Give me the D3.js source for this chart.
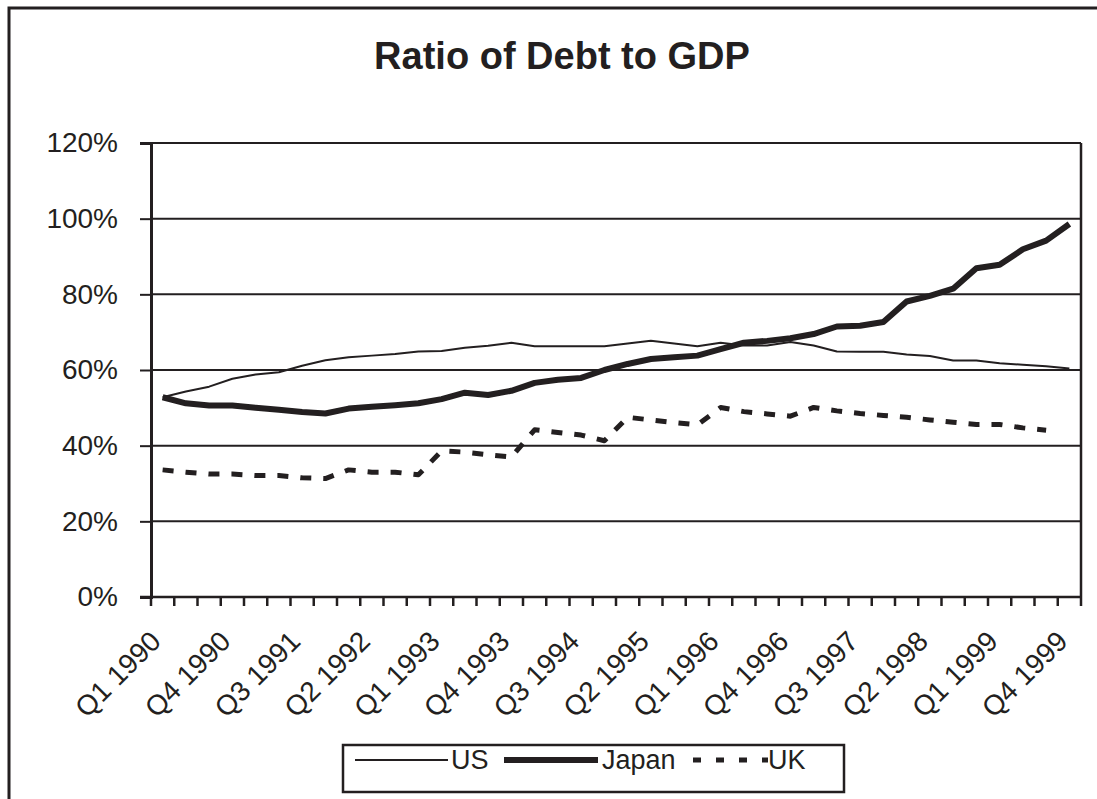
<!DOCTYPE html>
<html>
<head>
<meta charset="utf-8">
<script src="https://cdn.jsdelivr.net/npm/d3@7"></script>
<style>
  body { margin: 0; background: #fff; overflow: hidden; }
  text { font-family: "Liberation Sans", Arial, sans-serif; fill: #231f20; }
</style>
</head>
<body>
<div id="chart"></div>
<script>
// quarters, Q1 1990 .. Q4 1999
var quarters = [
  "Q1 1990", "Q2 1990", "Q3 1990", "Q4 1990",
  "Q1 1991", "Q2 1991", "Q3 1991", "Q4 1991",
  "Q1 1992", "Q2 1992", "Q3 1992", "Q4 1992",
  "Q1 1993", "Q2 1993", "Q3 1993", "Q4 1993",
  "Q1 1994", "Q2 1994", "Q3 1994", "Q4 1994",
  "Q1 1995", "Q2 1995", "Q3 1995", "Q4 1995",
  "Q1 1996", "Q2 1996", "Q3 1996", "Q4 1996",
  "Q1 1997", "Q2 1997", "Q3 1997", "Q4 1997",
  "Q1 1998", "Q2 1998", "Q3 1998", "Q4 1998",
  "Q1 1999", "Q2 1999", "Q3 1999", "Q4 1999"
];

// debt to GDP, percent
var usDebt = [52.8, 54.3, 55.6, 57.7, 58.8, 59.4, 61.1, 62.6, 63.4, 63.8,
  64.2, 64.9, 65.0, 65.9, 66.4, 67.2, 66.3, 66.3, 66.3, 66.3,
  67.0, 67.7, 67.0, 66.3, 67.2, 66.5, 66.5, 67.4, 66.5, 64.9,
  64.8, 64.8, 64.1, 63.7, 62.5, 62.5, 61.8, 61.4, 61.0, 60.4];

var japanDebt = [52.8, 51.2, 50.6, 50.6, 50.0, 49.5, 48.9, 48.5, 49.8, 50.3,
  50.7, 51.2, 52.3, 54.0, 53.4, 54.5, 56.6, 57.4, 57.9, 60.0,
  61.6, 62.9, 63.4, 63.8, 65.5, 67.2, 67.7, 68.4, 69.5, 71.5,
  71.7, 72.7, 78.1, 79.6, 81.5, 86.9, 87.8, 91.9, 94.2, 98.6];

var ukDebt = [33.6, 33.0, 32.5, 32.5, 32.1, 32.1, 31.5, 31.3, 33.6, 33.0,
  33.0, 32.3, 38.6, 38.3, 37.6, 37.0, 44.2, 43.5, 42.8, 41.3,
  47.5, 46.8, 46.1, 45.5, 50.1, 49.0, 48.4, 47.8, 50.1, 49.2,
  48.5, 48.0, 47.5, 46.8, 46.2, 45.6, 45.6, 44.7, 44.1, null];

var yTicks = [0, 20, 40, 60, 80, 100, 120];
var xLabels = quarters.filter((q, i) => i % 3 === 0);

var ink = "#231f20";
var svgWidth = 1097;
var svgHeight = 799;

var plot = { left: 151, right: 1081, top: 143, bottom: 597 };

var svg = d3.select("#chart")
  .append("svg")
  .attr("width", svgWidth)
  .attr("height", svgHeight);

// outer frame (runs off the bottom and right of the picture)
svg.append("rect")
  .attr("x", 9)
  .attr("y", 8)
  .attr("width", 1200)
  .attr("height", 900)
  .attr("fill", "none")
  .attr("stroke", ink)
  .attr("stroke-width", 3);

svg.append("text")
  .attr("x", 562)
  .attr("y", 69)
  .attr("text-anchor", "middle")
  .style("font-size", "38px")
  .style("font-weight", "bold")
  .text("Ratio of Debt to GDP");

var x = d3.scaleBand()
  .domain(quarters)
  .range([plot.left, plot.right])
  .padding(0);

var y = d3.scaleLinear()
  .domain([0, 120])
  .range([plot.bottom, plot.top]);

var cx = d => x(d) + x.bandwidth() / 2;

// gridlines
svg.append("g")
  .selectAll("line")
  .data(yTicks)
  .enter()
  .append("line")
  .attr("x1", plot.left)
  .attr("x2", plot.right)
  .attr("y1", d => y(d))
  .attr("y2", d => y(d))
  .attr("stroke", ink)
  .attr("stroke-width", 2);

// right border of plot area
svg.append("line")
  .attr("x1", plot.right)
  .attr("x2", plot.right)
  .attr("y1", plot.top)
  .attr("y2", plot.bottom)
  .attr("stroke", ink)
  .attr("stroke-width", 2.5);

// y axis
var leftAxis = d3.axisLeft(y)
  .tickValues(yTicks)
  .tickSize(11)
  .tickPadding(22)
  .tickFormat(d => d + "%");

var yAxis = svg.append("g")
  .attr("transform", `translate(${plot.left}, 0)`)
  .call(leftAxis);
yAxis.select(".domain").attr("stroke", ink).attr("stroke-width", 3);
yAxis.selectAll(".tick line").attr("stroke", ink).attr("stroke-width", 2);
yAxis.selectAll(".tick text")
  .style("font-size", "28px")
  .attr("fill", ink);

// x axis: tick marks between the quarters
svg.append("g")
  .selectAll("line")
  .data(quarters.concat(["end"]))
  .enter()
  .append("line")
  .attr("x1", (d, i) => i < quarters.length ? x(d) : plot.right)
  .attr("x2", (d, i) => i < quarters.length ? x(d) : plot.right)
  .attr("y1", plot.bottom)
  .attr("y2", plot.bottom + 9)
  .attr("stroke", ink)
  .attr("stroke-width", 2.5);

svg.append("line")
  .attr("x1", plot.left - 11)
  .attr("x2", plot.right)
  .attr("y1", plot.bottom)
  .attr("y2", plot.bottom)
  .attr("stroke", ink)
  .attr("stroke-width", 2.5);

// x labels, every third quarter
var bottomAxis = d3.axisBottom(x)
  .tickValues(xLabels)
  .tickSize(0);

var xAxis = svg.append("g")
  .attr("transform", `translate(0, ${plot.bottom})`)
  .call(bottomAxis);
xAxis.select(".domain").remove();
xAxis.selectAll(".tick text")
  .attr("text-anchor", "end")
  .attr("dy", null)
  .attr("y", 0)
  .attr("transform", "translate(0, 46) rotate(-45)")
  .style("font-size", "28px")
  .attr("fill", ink);

// series
var series = [
  { name: "US", values: usDebt, width: 2, dash: null },
  { name: "Japan", values: japanDebt, width: 6, dash: null },
  { name: "UK", values: ukDebt, width: 5, dash: "11,12" }
];

var line = d3.line()
  .defined(d => d.v !== null)
  .x(d => cx(d.q))
  .y(d => y(d.v));

svg.append("g")
  .selectAll("path")
  .data(series)
  .enter()
  .append("path")
  .attr("d", s => line(s.values.map((v, i) => ({ q: quarters[i], v: v }))))
  .attr("fill", "none")
  .attr("stroke", ink)
  .attr("stroke-width", s => s.width)
  .attr("stroke-linejoin", "round")
  .attr("stroke-dasharray", s => s.dash);

// legend
var legend = svg.append("g");
legend.append("rect")
  .attr("x", 343)
  .attr("y", 745)
  .attr("width", 501)
  .attr("height", 47)
  .attr("fill", "#fff")
  .attr("stroke", ink)
  .attr("stroke-width", 2.5);

var legendItems = [
  { name: "US", x1: 355, x2: 448, tx: 451, width: 2, dash: null },
  { name: "Japan", x1: 504, x2: 598, tx: 602, width: 6, dash: null },
  { name: "UK", x1: 693, x2: 768, tx: 768, width: 5, dash: "8,15" }
];

legend.selectAll("line")
  .data(legendItems)
  .enter()
  .append("line")
  .attr("x1", d => d.x1)
  .attr("x2", d => d.x2)
  .attr("y1", 760)
  .attr("y2", 760)
  .attr("stroke", ink)
  .attr("stroke-width", d => d.width)
  .attr("stroke-dasharray", d => d.dash);

legend.selectAll("text")
  .data(legendItems)
  .enter()
  .append("text")
  .attr("x", d => d.tx)
  .attr("y", 769)
  .style("font-size", "27px")
  .text(d => d.name);
</script>
</body>
</html>
